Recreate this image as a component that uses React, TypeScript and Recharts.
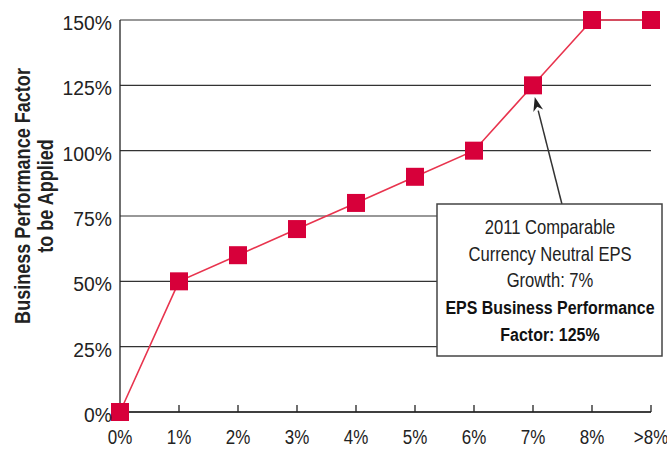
import React from 'react';
import { LineChart, Line, XAxis, YAxis, CartesianGrid } from 'recharts';

// growth buckets on the x axis
const growthLabels = ['0%', '1%', '2%', '3%', '4%', '5%', '6%', '7%', '8%', '>8%'];
// business performance factor (%) for each bucket
const factorValues = [0, 50, 60, 70, 80, 90, 100, 125, 150, 150];
const yTicks = [0, 25, 50, 75, 100, 125, 150];

const noteLines = ['2011 Comparable', 'Currency Neutral EPS', 'Growth: 7%'];
const noteBoldLines = ['EPS Business Performance', 'Factor: 125%'];

const FONT = '"Liberation Sans", Arial, sans-serif';
const W = 667;
const H = 449;
const PLOT = { left: 120, right: 651, top: 20, bottom: 412 };

const data = factorValues.map((v, i) => ({ x: i, value: v }));

// same mapping the chart uses, for the annotation overlay
const px = (x: number) => PLOT.left + (x / 9) * (PLOT.right - PLOT.left);
const py = (y: number) => PLOT.bottom - (y / 150) * (PLOT.bottom - PLOT.top);

// condensed text helper (glyphs squeezed horizontally)
const NText = ({ x, y, rotate = 0, size = 19, sx = 0.84, weight = 'normal', anchor = 'middle', fill = '#222', children }: any) => (
  <g transform={`translate(${x},${y}) rotate(${rotate}) scale(${sx},1)`}>
    <text x={0} y={0} textAnchor={anchor} fontSize={size} fontWeight={weight} fill={fill} fontFamily={FONT}>
      {children}
    </text>
  </g>
);

const SquareDot = (props: any) => {
  const { cx, cy } = props;
  if (cx == null || cy == null) return null;
  return <rect x={cx - 9} y={cy - 9} width={18} height={18} fill="#d7003a" />;
};

const XTick = (props: any) => {
  const { x, payload } = props;
  const y = PLOT.bottom;
  return (
    <g>
      {payload.value > 0 && <line x1={x} x2={x} y1={y} y2={y - 7} stroke="#222" strokeWidth={1.3} />}
      <NText x={x} y={y + 32} size={19.5} sx={0.87}>{growthLabels[payload.value]}</NText>
    </g>
  );
};

const YTick = (props: any) => {
  const { y, payload } = props;
  return (
    <NText x={PLOT.left - 8} y={y + 10} anchor="end" size={21} sx={0.92}>
      {payload.value}%
    </NText>
  );
};

const Annotation = () => {
  const tip = { x: px(7.03), y: py(120.5) };
  const tail = { x: px(7.49), y: 204 };
  const ang = Math.atan2(tip.y - tail.y, tip.x - tail.x);
  const hl = 14;
  const hw = 5;
  const bx = tip.x - hl * Math.cos(ang);
  const by = tip.y - hl * Math.sin(ang);
  const head = [
    `${tip.x},${tip.y}`,
    `${bx + hw * Math.sin(ang)},${by - hw * Math.cos(ang)}`,
    `${tip.x - (hl - 4) * Math.cos(ang)},${tip.y - (hl - 4) * Math.sin(ang)}`,
    `${bx - hw * Math.sin(ang)},${by + hw * Math.cos(ang)}`,
  ].join(' ');
  const cx = 550;
  return (
    <svg width={W} height={H} style={{ position: 'absolute', left: 0, top: 0, pointerEvents: 'none' }}>
      <line x1={tail.x} y1={tail.y} x2={bx} y2={by} stroke="#333" strokeWidth={1.5} />
      <polygon points={head} fill="#222" />
      <rect x={437} y={204} width={225} height={152} fill="#fff" stroke="#444" strokeWidth={1.5} />
      {noteLines.map((t, i) => (
        <NText key={t} x={cx} y={234 + i * 26.5} size={20} sx={0.83}>{t}</NText>
      ))}
      {noteBoldLines.map((t, i) => (
        <NText key={t} x={cx} y={314 + i * 26.5} weight="bold" fill="#111">{t}</NText>
      ))}
      <NText x={30} y={196} rotate={-90} size={21.5} weight="bold">Business Performance Factor</NText>
      <NText x={53} y={196} rotate={-90} size={21.5} weight="bold">to be Applied</NText>
    </svg>
  );
};

export default function App() {
  return (
    <div style={{ position: 'absolute', left: 0, top: 0, width: W, height: H, background: '#fff' }}>
      <LineChart
        width={W}
        height={H}
        data={data}
        margin={{ top: PLOT.top, right: W - PLOT.right, left: PLOT.left - 60, bottom: H - PLOT.bottom - 30 }}
      >
        <CartesianGrid vertical={false} stroke="#333" strokeWidth={1.2} />
        <XAxis
          type="number"
          dataKey="x"
          domain={[0, 9]}
          ticks={growthLabels.map((_, i) => i)}
          height={30}
          axisLine={{ stroke: '#222', strokeWidth: 1.3 }}
          tickLine={false}
          tick={<XTick />}
          interval={0}
        />
        <YAxis
          domain={[0, 150]}
          ticks={yTicks}
          width={60}
          axisLine={{ stroke: '#222', strokeWidth: 1.3 }}
          tickLine={false}
          tick={<YTick />}
          interval={0}
        />
        <Line
          dataKey="value"
          stroke="#e8344e"
          strokeWidth={1.6}
          dot={<SquareDot />}
          activeDot={false}
          isAnimationActive={false}
        />
      </LineChart>
      <Annotation />
    </div>
  );
}
